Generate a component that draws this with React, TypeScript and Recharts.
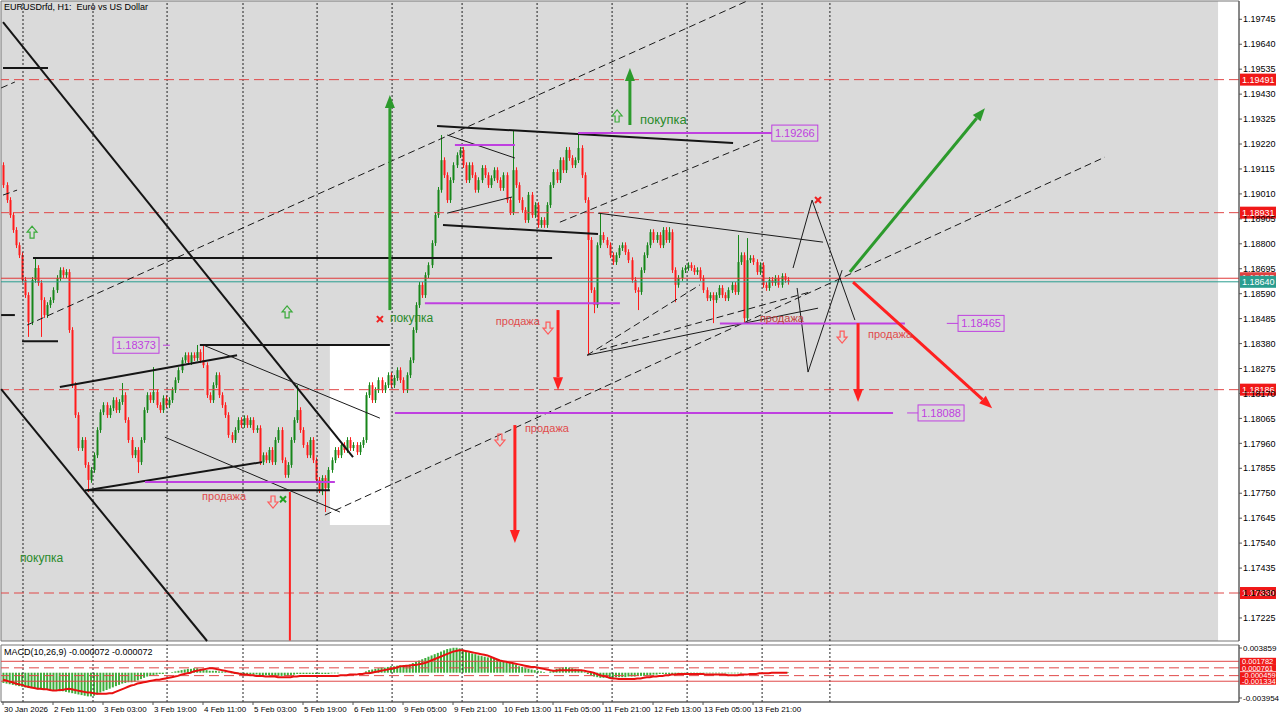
import React from "react";
import {
  ComposedChart, Bar, Line, XAxis, YAxis,
  ReferenceLine, ReferenceArea, ReferenceDot,
} from "recharts";

const FONT = "'Liberation Sans', Arial, sans-serif";
const UP = "#17861a";
const DOWN = "#ff1c1c";
const PURPLE = "#bf40e0";
const ARROW_GREEN = "#2c9a2c";
const ARROW_RED = "#ff2020";
const LEVEL_RED = "#e04848";

const X_MIN = -0.64;
const X_MAX = 395.5;
const Y_MIN = 1.17128;
const Y_MAX = 1.19822;
const M_MIN = -0.00458;
const M_MAX = 0.00433;

// H1 closes, one per bar
const FIRST_OPEN = 1.19131;
const CLOSES = [
  1.19047, 1.18984, 1.18921, 1.18858, 1.18794, 1.18752, 1.18648, 1.18584, 1.18470, 1.18648,
  1.18698, 1.18635, 1.18563, 1.18500, 1.18542, 1.18563, 1.18605, 1.18656, 1.18689, 1.18668,
  1.18681, 1.18437, 1.18205, 1.18079, 1.17940, 1.17974, 1.17869, 1.17806, 1.17848, 1.17910,
  1.18016, 1.18091, 1.18121, 1.18079, 1.18108, 1.18142, 1.18100, 1.18134, 1.18163, 1.18058,
  1.17974, 1.17910, 1.17932, 1.17881, 1.17974, 1.18100, 1.18163, 1.18142, 1.18176, 1.18121,
  1.18100, 1.18150, 1.18121, 1.18142, 1.18184, 1.18226, 1.18268, 1.18310, 1.18331, 1.18302,
  1.18331, 1.18319, 1.18344, 1.18310, 1.18289, 1.18163, 1.18142, 1.18205, 1.18247, 1.18163,
  1.18121, 1.18079, 1.17995, 1.17974, 1.18016, 1.18058, 1.18037, 1.18066, 1.18037, 1.18058,
  1.18016, 1.18024, 1.17881, 1.17910, 1.17889, 1.17932, 1.17881, 1.17974, 1.18016, 1.17889,
  1.17827, 1.17869, 1.17974, 1.18058, 1.18100, 1.18016, 1.17953, 1.17910, 1.17974, 1.17889,
  1.17806, 1.17763, 1.17814, 1.17772, 1.17848, 1.17889, 1.17932, 1.17910, 1.17953, 1.17932,
  1.17974, 1.17940, 1.17953, 1.17923, 1.17953, 1.17974, 1.18163, 1.18205, 1.18142, 1.18184,
  1.18226, 1.18184, 1.18205, 1.18247, 1.18205, 1.18235, 1.18268, 1.18226, 1.18184, 1.18247,
  1.18310, 1.18437, 1.18542, 1.18627, 1.18584, 1.18668, 1.18710, 1.18803, 1.18921, 1.19027,
  1.19152, 1.19089, 1.18984, 1.19068, 1.19131, 1.19173, 1.19195, 1.19131, 1.19068, 1.19131,
  1.19089, 1.19027, 1.19068, 1.19119, 1.19089, 1.19047, 1.19076, 1.19110, 1.19068, 1.19035,
  1.19089, 1.18984, 1.18933, 1.19110, 1.19047, 1.18984, 1.18942, 1.18900, 1.19006, 1.18921,
  1.18963, 1.18879, 1.18900, 1.18879, 1.18963, 1.19047, 1.19102, 1.19068, 1.19152, 1.19110,
  1.19195, 1.19161, 1.19131, 1.19152, 1.19203, 1.19089, 1.18984, 1.18816, 1.18605, 1.18542,
  1.18794, 1.18837, 1.18816, 1.18794, 1.18752, 1.18723, 1.18752, 1.18782, 1.18794, 1.18765,
  1.18731, 1.18648, 1.18605, 1.18597, 1.18689, 1.18752, 1.18794, 1.18849, 1.18816, 1.18837,
  1.18794, 1.18858, 1.18816, 1.18849, 1.18689, 1.18627, 1.18656, 1.18689, 1.18698, 1.18710,
  1.18698, 1.18681, 1.18689, 1.18656, 1.18605, 1.18571, 1.18584, 1.18563, 1.18584, 1.18614,
  1.18584, 1.18571, 1.18605, 1.18627, 1.18597, 1.18723, 1.18752, 1.18487, 1.18731, 1.18740,
  1.18723, 1.18681, 1.18710, 1.18627, 1.18614, 1.18648, 1.18635, 1.18656, 1.18627, 1.18664,
  1.18648, 1.18640,
];

// long wicks [bar, price]
const HIGH_WICKS = [
  [10, 1.18740], [38, 1.18214], [48, 1.18281], [62, 1.18374], [64, 1.18374], [94, 1.18205],
  [140, 1.19258], [163, 1.19279], [184, 1.19258], [191, 1.18929], [213, 1.18870],
  [235, 1.18837], [238, 1.18824],
];
const LOW_WICKS = [
  [8, 1.18408], [12, 1.18408], [27, 1.17755], [43, 1.17835], [102, 1.17742], [103, 1.17671],
  [187, 1.18331], [189, 1.18508], [203, 1.18521], [215, 1.18554], [227, 1.18466], [237, 1.18470],
];
const SHORT_WICK = 0.00012;

// MACD(10,26,9), in units of 0.0001
const HIST = [
  -16, -17, -18, -19, -20, -21, -22, -23, -24, -24,
  -25, -26, -26, -27, -27, -28, -28, -28, -29, -29,
  -30, -31, -32, -33, -34, -35, -36, -37, -37, -36,
  -34, -31, -29, -27, -25, -23, -21, -19, -17, -16,
  -15, -15, -14, -12, -10, -8, -6, -5, -4, -3,
  -2, -2, -1, 0, 1, 2, 3, 4, 5, 6,
  6, 7, 7, 6, 6, 4, 3, 3, 3, 2,
  2, 1, 0, -1, -2, -2, -2, -3, -3, -3,
  -3, -3, -4, -4, -4, -4, -5, -5, -5, -5,
  -5, -5, -4, -3, -2, -2, -2, -2, -2, -2,
  -2, -2, -2, -2, -2, -1, -1, -1, 0, 0,
  0, 0, 0, 0, 0, 0, 2, 4, 5, 6,
  7, 8, 8, 9, 10, 10, 11, 11, 12, 12,
  13, 15, 17, 19, 21, 23, 25, 27, 29, 31,
  33, 35, 37, 38, 39, 39, 38, 36, 34, 32,
  30, 29, 27, 26, 25, 24, 23, 22, 20, 18,
  17, 16, 15, 14, 12, 10, 9, 7, 6, 5,
  4, 3, 2, 1, 0, 2, 4, 6, 7, 8,
  9, 8, 7, 6, 5, 3, 1, -2, -4, -6,
  -7, -8, -8, -8, -8, -8, -7, -7, -7, -7,
  -6, -6, -6, -5, -5, -5, -4, -4, -3, -3,
  -2, -2, -2, -2, -2, -2, -2, -1, -1, -1,
  -1, -1, -1, -1, -1, -1, -1, -1, -1, -1,
  -1, -1, -1, -1, -1, -1, -1, 0, 0, 0,
  0, 0, 0, 0, 0, 0, 1, 1, 1, 1,
  1, 1,
];
const SIGNAL = [
  -11, -12, -14, -15, -17, -18, -19, -21, -22, -23,
  -24, -25, -25, -26, -26, -27, -28, -28, -27, -27,
  -26, -25, -26, -27, -28, -29, -30, -31, -31, -32,
  -33, -33, -33, -33, -32, -32, -30, -28, -26, -24,
  -22, -20, -19, -17, -16, -15, -14, -13, -12, -11,
  -11, -10, -9, -8, -7, -6, -5, -3, -2, -1,
  0, 2, 3, 4, 5, 6, 7, 7, 6, 5,
  4, 3, 2, 1, 0, -1, -2, -3, -3, -4,
  -4, -5, -5, -5, -6, -6, -6, -6, -7, -7,
  -7, -7, -7, -6, -6, -5, -5, -5, -5, -5,
  -5, -5, -5, -5, -5, -5, -5, -5, -4, -4,
  -4, -3, -3, -3, -2, -2, -1, -1, 0, 1,
  2, 3, 4, 5, 6, 7, 8, 10, 10, 11,
  11, 12, 12, 13, 14, 15, 17, 19, 21, 23,
  25, 27, 29, 31, 33, 34, 35, 35, 34, 33,
  32, 31, 30, 29, 28, 27, 25, 23, 21, 19,
  18, 17, 16, 15, 14, 13, 12, 11, 10, 9,
  9, 8, 7, 6, 5, 4, 3, 3, 4, 4,
  4, 4, 4, 4, 4, 4, 3, 2, 1, 0,
  -2, -4, -5, -6, -8, -9, -9, -10, -10, -10,
  -10, -10, -10, -9, -9, -8, -7, -7, -6, -6,
  -5, -5, -4, -4, -3, -3, -2, -2, -2, -2,
  -2, -2, -2, -2, -2, -3, -3, -3, -3, -3,
  -3, -3, -4, -4, -4, -4, -3, -3, -3, -2,
  -2, -2, -1, -1, -1, -1, 0, 0, 0, 0,
  0, 0,
];

const PRICE_TICKS = [
  1.19745, 1.1964, 1.19535, 1.1943, 1.19325, 1.1922, 1.19115, 1.1901, 1.18905, 1.188,
  1.18695, 1.1859, 1.18485, 1.1838, 1.18275, 1.1817, 1.18065, 1.1796, 1.17855, 1.1775,
  1.17645, 1.1754, 1.17435, 1.1733, 1.17225,
];
const TIME_TICKS = [0, 16, 32, 48, 64, 80, 96, 112, 128, 144, 160, 176, 192, 208, 224, 240];
const TIME_LABELS = [
  "30 Jan 2026", "2 Feb 11:00", "3 Feb 03:00", "3 Feb 19:00", "4 Feb 11:00", "5 Feb 03:00",
  "5 Feb 19:00", "6 Feb 11:00", "9 Feb 05:00", "9 Feb 21:00", "10 Feb 13:00", "11 Feb 05:00",
  "11 Feb 21:00", "12 Feb 13:00", "13 Feb 05:00", "13 Feb 21:00",
];
const SEPARATORS = [6.4, 28.8, 52.5, 76.8, 100.5, 124.5, 146.9, 170.9, 194.9, 218.9, 242.9, 264.6];

const RED_LEVELS = [1.19491, 1.18931, 1.18186, 1.1733];
const ASK = 1.18655;
const BID = 1.1864;
const MACD_SOLID = [0.001782, -0.001334];
const MACD_DASHED = [0.000761, -0.000459];
const MACD_AXIS = [0.003859, -0.003954];

// drawn objects, [x1, y1, x2, y2] in bar / price
const HEAVY_LINES = [
  [0, 1.19733, 112, 1.17902], [-0.6, 1.18188, 65.3, 1.17128],
  [0, 1.1954, 14.4, 1.1954], [-0.6, 1.185, 3.8, 1.185], [6.1, 1.1839, 17.6, 1.1839],
  [9.6, 1.1874, 175.7, 1.1874], [63, 1.18374, 123.8, 1.18374], [26.2, 1.17763, 104.6, 1.17763],
  [26.9, 1.17763, 82.9, 1.17881], [18.2, 1.18197, 74.9, 1.18331],
  [138.9, 1.19296, 233.6, 1.19224], [140.8, 1.18879, 190.4, 1.18841],
];
const THIN_LINES = [
  [64, 1.18374, 120.6, 1.18066], [51.8, 1.17986, 107.8, 1.17671],
  [142.1, 1.18929, 162.9, 1.18997], [142.1, 1.19258, 163.8, 1.19161],
  [190.4, 1.18929, 262.4, 1.18807], [186.9, 1.18331, 260.8, 1.18529],
];
const ZIGZAGS = [
  [[252.8, 1.18698], [258.9, 1.18984], [272.6, 1.18479]],
  [[254.1, 1.18614], [257.6, 1.1826], [268.5, 1.18689]],
];
const DASHED_LINES = [
  [7.7, 1.18458, 238.1, 1.19822], [103, 1.17658, 352.6, 1.19165], [178.2, 1.18891, 242.2, 1.19237],
  [186.9, 1.18331, 223, 1.18627], [191, 1.18353, 258.2, 1.18597],
  [-0.6, 1.19456, 3.8, 1.19481], [0, 1.19005, 4.5, 1.19026],
];
const PURPLE_LINES = [
  [45.4, 1.17797, 106.2, 1.17797], [135, 1.1855, 197.4, 1.1855], [144.6, 1.19216, 163.8, 1.19216],
  [184, 1.19266, 246, 1.19266], [125.4, 1.18088, 284.8, 1.18088], [229.4, 1.18465, 288.6, 1.18465],
];
const PURPLE_TICKS = [
  [51.2, 1.18373, 53.4, 1.18373], [302, 1.18465, 305.6, 1.18465], [289.3, 1.18088, 292.8, 1.18088],
];
const PRICE_BOXES = [
  [35.2, 1.18373, "1.18373"], [246, 1.19266, "1.19266"],
  [305.6, 1.18465, "1.18465"], [292.8, 1.18088, "1.18088"],
];
const GREEN_ARROWS = [
  [123.8, 1.18521, 123.8, 1.19426], [200.6, 1.193, 200.6, 1.1954], [271, 1.18681, 314.2, 1.19371],
];
const RED_ARROWS = [
  [272, 1.18639, 316.5, 1.18108], [177.6, 1.18521, 177.6, 1.18184],
  [163.8, 1.18037, 163.8, 1.1754], [273.6, 1.18466, 273.6, 1.18134],
];
const RED_STEMS = [[91.8, 1.17755, 91.8, 1.1713]];
const BUY_NOTES = [[5.4, 1.17477], [123.8, 1.18487], [203.8, 1.19325]];
const SELL_NOTES = [[63.7, 1.17738], [157.7, 1.18475], [167, 1.18024], [242.2, 1.18487], [276.8, 1.1842]];
const DOWN_MARKS = [[86.4, 1.17713], [174.4, 1.18445], [159, 1.17974], [268.5, 1.18407]];
const UP_MARKS = [[9.3, 1.18849], [90.9, 1.18513], [196.5, 1.19338]];
const RED_CROSSES = [[120.6, 1.18483], [260.8, 1.18984]];
const GREEN_CROSSES = [[89.6, 1.17725]];

const candles = CLOSES.map((close, i) => {
  const open = i === 0 ? FIRST_OPEN : CLOSES[i - 1];
  const hw = HIGH_WICKS.find((w) => w[0] === i);
  const lw = LOW_WICKS.find((w) => w[0] === i);
  const high = hw ? hw[1] : Math.max(open, close) + SHORT_WICK;
  const low = lw ? lw[1] : Math.min(open, close) - SHORT_WICK;
  return { i, open, close, high, low };
});

const macd = HIST.map((h, i) => ({ i, hist: h / 10000, signal: SIGNAL[i] / 10000 }));

function Candle(props: any) {
  const { x, y, width, height, payload } = props;
  if (!payload || height == null) return null;
  const top = Math.min(y, y + height);
  const h = Math.abs(height);
  const k = h / (payload.high - payload.low || 1);
  const px = Math.round(x + width / 2);
  const yO = top + (payload.high - payload.open) * k;
  const yC = top + (payload.high - payload.close) * k;
  const col = payload.close >= payload.open ? UP : DOWN;
  return (
    <g>
      <line x1={px + 0.5} x2={px + 0.5} y1={top} y2={top + h} stroke={col} strokeWidth={1} />
      <rect x={px - 0.5} y={Math.min(yO, yC)} width={2} height={Math.max(1, Math.abs(yC - yO))} fill={col} />
    </g>
  );
}

const arrowShape = (color: string) => (p: any) => {
  const { x1, y1, x2, y2 } = p;
  const a = Math.atan2(y2 - y1, x2 - x1);
  const L = 13;
  const W = 5;
  const bx = x2 - L * Math.cos(a);
  const by = y2 - L * Math.sin(a);
  const pts = [
    [x2, y2],
    [bx + W * Math.sin(a), by - W * Math.cos(a)],
    [bx - W * Math.sin(a), by + W * Math.cos(a)],
  ].map((q) => q.join(",")).join(" ");
  return (
    <g>
      <line x1={x1} y1={y1} x2={bx} y2={by} stroke={color} strokeWidth={3} />
      <polygon points={pts} fill={color} />
    </g>
  );
};

const noteShape = (label: string, color: string, size: number) => (p: any) => (
  <text x={p.cx} y={p.cy} dy="0.35em" fill={color} fontSize={size} fontFamily={FONT}>{label}</text>
);

const hollowArrow = (color: string, down: boolean) => (p: any) => {
  const s = down ? 1 : -1;
  const pts = [[-2, -6], [2, -6], [2, 0], [5, 0], [0, 6], [-5, 0], [-2, 0]]
    .map(([dx, dy]) => `${p.cx + dx},${p.cy + dy * s}`).join(" ");
  return <polygon points={pts} fill="none" stroke={color} strokeWidth={1.2} />;
};

const crossShape = (color: string) => (p: any) => (
  <g stroke={color} strokeWidth={2}>
    <line x1={p.cx - 3} y1={p.cy - 3} x2={p.cx + 3} y2={p.cy + 3} />
    <line x1={p.cx - 3} y1={p.cy + 3} x2={p.cx + 3} y2={p.cy - 3} />
  </g>
);

const boxShape = (label: string) => (p: any) => (
  <g>
    <rect x={p.cx} y={p.cy - 8} width={46} height={16} fill="none" stroke={PURPLE} strokeWidth={1} />
    <text x={p.cx + 23} y={p.cy} dy="0.36em" textAnchor="middle" fill={PURPLE} fontSize={11} fontFamily={FONT}>{label}</text>
  </g>
);

const tagShape = (label: string, bg: string, h = 12, fs = 9) => (p: any) => (
  <g>
    <rect x={p.cx + 1} y={p.cy - h / 2} width={36} height={h} fill={bg} />
    <text x={p.cx + 3} y={p.cy} dy="0.36em" fill="#fff" fontSize={fs} fontFamily={FONT}>{label}</text>
  </g>
);

function TimeTick(props: any) {
  const { x, y, payload } = props;
  const k = TIME_TICKS.indexOf(payload.value);
  return (
    <text x={x + 1} y={y + 7} fill="#000" fontSize={8} fontFamily={FONT} textAnchor="start">
      {TIME_LABELS[k] ?? ""}
    </text>
  );
}

function MacdTick(props: any) {
  const { x, y, payload } = props;
  return (
    <text x={x + 1} y={y} dy="0.36em" fill="#000" fontSize={8} fontFamily={FONT} textAnchor="start">
      {Number(payload.value).toFixed(6)}
    </text>
  );
}

const seg = (s: number[]) => [{ x: s[0], y: s[1] }, { x: s[2], y: s[3] }] as any;

export default function App() {
  return (
    <div style={{ position: "relative", width: 1280, height: 718, background: "#fff", overflow: "hidden" }}>
      <style>{`body{margin:0} svg{overflow:visible}`}</style>

      <div style={{ position: "absolute", left: 0, top: 641 }}>
        <ComposedChart width={1280} height={77} data={macd} margin={{ top: 4, right: 0, bottom: 0, left: 1 }}>
          <XAxis
            dataKey="i" type="number" domain={[X_MIN, X_MAX]} allowDataOverflow
            ticks={TIME_TICKS} interval={0} tick={<TimeTick />} height={16} tickSize={3} tickMargin={0}
            stroke="#555"
          />
          <YAxis
            orientation="right" width={41} type="number" domain={[M_MIN, M_MAX]} allowDataOverflow
            ticks={MACD_AXIS} interval={0} tick={<MacdTick />} tickSize={3} tickMargin={0}
            stroke="#555"
          />
          {SEPARATORS.map((s) => (
            <ReferenceLine key={"msep" + s} x={s} stroke="#222" strokeDasharray="2 2" />
          ))}
          {MACD_SOLID.map((v) => (
            <ReferenceLine key={"ms" + v} y={v} stroke={LEVEL_RED} />
          ))}
          {MACD_DASHED.map((v) => (
            <ReferenceLine key={"md" + v} y={v} stroke={LEVEL_RED} strokeDasharray="10 5" />
          ))}
          <Bar dataKey="hist" fill="#3cae3c" barSize={2} isAnimationActive={false} />
          <Line dataKey="signal" stroke="#e81010" strokeWidth={2} dot={false} type="linear" isAnimationActive={false} />
          {[...MACD_SOLID, ...MACD_DASHED].sort((a, b) => b - a).map((v) => (
            <ReferenceDot key={"mt" + v} x={X_MAX} y={v} r={0} ifOverflow="visible" zIndex={900} shape={tagShape(v.toFixed(6), "#f01818", 7, 7.5)} />
          ))}
          <ReferenceArea x1={X_MIN} x2={X_MAX} y1={M_MIN} y2={M_MAX} fill="none" stroke="#777" strokeWidth={1} ifOverflow="visible" />
        </ComposedChart>
      </div>

      <div style={{ position: "absolute", left: 0, top: 0 }}>
        <ComposedChart width={1280} height={645} data={candles} margin={{ top: 1, right: 0, bottom: 4, left: 1 }}>
          <XAxis dataKey="i" type="number" domain={[X_MIN, X_MAX]} allowDataOverflow hide />
          <YAxis
            orientation="right" width={41} type="number" domain={[Y_MIN, Y_MAX]} allowDataOverflow
            ticks={PRICE_TICKS} interval={0} tickFormatter={(v: number) => v.toFixed(5)}
            tick={{ fontSize: 9, fill: "#000", fontFamily: FONT }} tickSize={3} tickMargin={1}
            stroke="#555"
          />
          <ReferenceArea x1={X_MIN} x2={388.8} y1={Y_MIN} y2={Y_MAX} fill="#dadada" fillOpacity={1} stroke="none" zIndex={-90} ifOverflow="visible" />
          <ReferenceArea x1={104.6} x2={123.8} y1={1.17616} y2={1.18374} fill="#ffffff" fillOpacity={1} stroke="none" zIndex={-80} />

          {SEPARATORS.map((s) => (
            <ReferenceLine key={"sep" + s} x={s} stroke="#222" strokeDasharray="2 2" />
          ))}
          {RED_LEVELS.map((v) => (
            <ReferenceLine key={"lv" + v} y={v} stroke={LEVEL_RED} strokeDasharray="10 5" />
          ))}
          <ReferenceLine y={ASK} stroke="#e03a3a" />
          <ReferenceLine y={BID} stroke="#2a9d8f" />

          <Bar dataKey={(d: any) => [d.low, d.high]} shape={<Candle />} barSize={2} isAnimationActive={false} />

          {HEAVY_LINES.map((s, k) => (
            <ReferenceLine key={"h" + k} segment={seg(s)} stroke="#151515" strokeWidth={2} ifOverflow="visible" />
          ))}
          {THIN_LINES.map((s, k) => (
            <ReferenceLine key={"t" + k} segment={seg(s)} stroke="#1a1a1a" strokeWidth={1} ifOverflow="visible" />
          ))}
          {ZIGZAGS.flatMap((z, k) =>
            z.slice(1).map((q, j) => (
              <ReferenceLine key={"z" + k + "-" + j} segment={seg([z[j][0], z[j][1], q[0], q[1]])} stroke="#1a1a1a" strokeWidth={1} ifOverflow="visible" />
            ))
          )}
          {DASHED_LINES.map((s, k) => (
            <ReferenceLine key={"d" + k} segment={seg(s)} stroke="#1a1a1a" strokeWidth={1} strokeDasharray="7 4" ifOverflow="visible" />
          ))}
          {PURPLE_LINES.map((s, k) => (
            <ReferenceLine key={"p" + k} segment={seg(s)} stroke={PURPLE} strokeWidth={2} ifOverflow="visible" />
          ))}
          {PURPLE_TICKS.map((s, k) => (
            <ReferenceLine key={"pt" + k} segment={seg(s)} stroke={PURPLE} strokeWidth={1} ifOverflow="visible" />
          ))}
          {PRICE_BOXES.map((b) => (
            <ReferenceDot key={"b" + b[2]} x={b[0] as number} y={b[1] as number} r={0} ifOverflow="visible" shape={boxShape(b[2] as string)} />
          ))}
          {RED_STEMS.map((s, k) => (
            <ReferenceLine key={"rs" + k} segment={seg(s)} stroke={ARROW_RED} strokeWidth={2} ifOverflow="visible" />
          ))}
          {GREEN_ARROWS.map((s, k) => (
            <ReferenceLine key={"ga" + k} segment={seg(s)} stroke={ARROW_GREEN} ifOverflow="visible" shape={arrowShape(ARROW_GREEN)} />
          ))}
          {RED_ARROWS.map((s, k) => (
            <ReferenceLine key={"ra" + k} segment={seg(s)} stroke={ARROW_RED} ifOverflow="visible" shape={arrowShape(ARROW_RED)} />
          ))}
          {BUY_NOTES.map((n, k) => (
            <ReferenceDot key={"bn" + k} x={n[0]} y={n[1]} r={0} ifOverflow="visible" shape={noteShape("покупка", "#2a8a2a", k === 2 ? 13 : 12)} />
          ))}
          {SELL_NOTES.map((n, k) => (
            <ReferenceDot key={"sn" + k} x={n[0]} y={n[1]} r={0} ifOverflow="visible" shape={noteShape("продажа", k === 3 ? "#c04040" : "#e04c4c", 11)} />
          ))}
          {DOWN_MARKS.map((n, k) => (
            <ReferenceDot key={"dm" + k} x={n[0]} y={n[1]} r={0} ifOverflow="visible" shape={hollowArrow("#ff5a5a", true)} />
          ))}
          {UP_MARKS.map((n, k) => (
            <ReferenceDot key={"um" + k} x={n[0]} y={n[1]} r={0} ifOverflow="visible" shape={hollowArrow("#3aaa3a", false)} />
          ))}
          {RED_CROSSES.map((n, k) => (
            <ReferenceDot key={"rc" + k} x={n[0]} y={n[1]} r={0} ifOverflow="visible" shape={crossShape("#f02020")} />
          ))}
          {GREEN_CROSSES.map((n, k) => (
            <ReferenceDot key={"gc" + k} x={n[0]} y={n[1]} r={0} ifOverflow="visible" shape={crossShape("#22a022")} />
          ))}

          {RED_LEVELS.map((v) => (
            <ReferenceDot key={"tag" + v} x={X_MAX} y={v} r={0} ifOverflow="visible" zIndex={900} shape={tagShape(v.toFixed(5), "#f01818")} />
          ))}
          <ReferenceDot x={X_MAX} y={ASK} r={0} ifOverflow="visible" zIndex={900} shape={tagShape(ASK.toFixed(5), "#e04040")} />
          <ReferenceDot x={X_MAX} y={BID} r={0} ifOverflow="visible" zIndex={901} shape={tagShape(BID.toFixed(5), "#2a9d8f")} />

          <ReferenceArea x1={X_MIN} x2={X_MAX} y1={Y_MIN} y2={Y_MAX} fill="none" stroke="#777" strokeWidth={1} ifOverflow="visible" />
        </ComposedChart>
      </div>

      <div style={{ position: "absolute", left: 4, top: 2, fontFamily: FONT, fontSize: 9, color: "#000", whiteSpace: "pre" }}>
        {"EURUSDrfd, H1:  Euro vs US Dollar"}
      </div>
      <div style={{ position: "absolute", left: 4, top: 647, fontFamily: FONT, fontSize: 9, color: "#000", whiteSpace: "pre" }}>
        {"MACD(10,26,9) -0.000072 -0.000072"}
      </div>
    </div>
  );
}
